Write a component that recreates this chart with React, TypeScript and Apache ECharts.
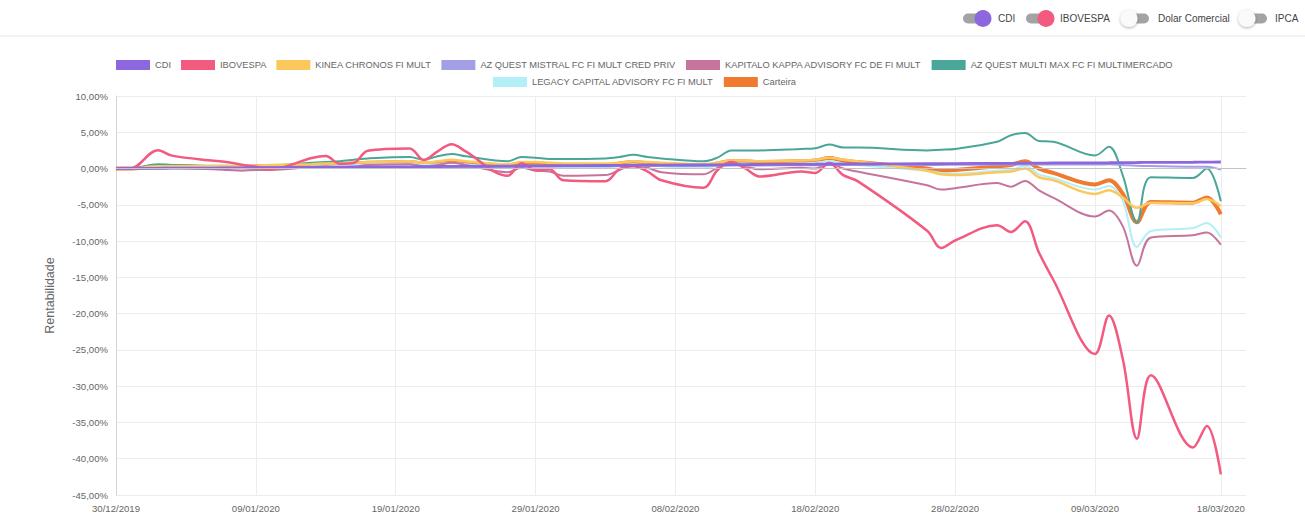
import React, { useEffect, useRef } from 'react';
import * as echarts from 'echarts';

const dates = [
  '30/12/2019', '31/12/2019', '02/01/2020', '03/01/2020', '06/01/2020', '07/01/2020', '08/01/2020', '09/01/2020', '10/01/2020',
  '13/01/2020', '14/01/2020', '15/01/2020', '16/01/2020', '17/01/2020',
  '20/01/2020', '21/01/2020', '22/01/2020', '23/01/2020', '24/01/2020',
  '27/01/2020', '28/01/2020', '29/01/2020', '30/01/2020', '31/01/2020',
  '03/02/2020', '04/02/2020', '05/02/2020', '06/02/2020', '07/02/2020',
  '10/02/2020', '11/02/2020', '12/02/2020', '13/02/2020', '14/02/2020',
  '17/02/2020', '18/02/2020', '19/02/2020', '20/02/2020', '21/02/2020',
  '26/02/2020', '27/02/2020', '28/02/2020',
  '02/03/2020', '03/03/2020', '04/03/2020', '05/03/2020', '06/03/2020',
  '09/03/2020', '10/03/2020', '11/03/2020', '12/03/2020', '13/03/2020',
  '16/03/2020', '17/03/2020', '18/03/2020',
];

const xTickLabels = ['30/12/2019', '09/01/2020', '19/01/2020', '29/01/2020', '08/02/2020', '18/02/2020', '28/02/2020', '09/03/2020', '18/03/2020'];

const cdi = [
  0, 0.02, 0.03, 0.05, 0.07, 0.09, 0.10, 0.12, 0.14,
  0.16, 0.17, 0.19, 0.21, 0.23,
  0.24, 0.26, 0.28, 0.30, 0.31,
  0.33, 0.35, 0.37, 0.38, 0.40,
  0.42, 0.43, 0.45, 0.47, 0.48,
  0.50, 0.51, 0.53, 0.55, 0.56,
  0.58, 0.59, 0.61, 0.63, 0.64,
  0.66, 0.67, 0.69,
  0.71, 0.72, 0.74, 0.75, 0.77,
  0.79, 0.80, 0.82, 0.83, 0.85,
  0.87, 0.88, 0.90,
];

const ibovespa = [
  0, 0, 2.53, 1.78, 1.07, 0.88, 0.52, 0.26, -0.12,
  1.45, 1.72, 0.66, 0.77, 2.45,
  2.78, 1.19, 2.37, 3.36, 2.36,
  -1.00, 0.72, -0.22, -0.10, -1.63,
  -1.76, -0.08, 0.33, -0.39, -1.62,
  -2.66, -0.24, 0.89, 0.01, -1.09,
  -0.40, -0.60, 0.75, -0.91, -1.70,
  -8.58, -10.95, -9.92,
  -7.80, -8.74, -7.28, -11.60, -15.26,
  -25.58, -20.26, -26.35, -37.24, -28.51,
  -38.46, -35.48, -42.15,
];

const kinea = [
  0, 0, 0.3, 0.3, 0.3, 0.3, 0.4, 0.4, 0.5,
  0.6, 0.7, 0.7, 0.8, 0.9,
  1.0, 0.8, 1.0, 1.2, 1.0,
  0.6, 0.9, 0.9, 0.8, 0.7,
  0.7, 0.8, 1.0, 0.9, 0.8,
  0.6, 0.8, 1.1, 1.1, 1.0,
  1.1, 1.2, 1.5, 1.2, 1.0,
  -0.3, -0.8, -0.9,
  -0.5, -0.4, 0.0, -1.2, -1.6,
  -3.5, -3.0, -4.0, -5.4, -4.7,
  -4.8, -4.2, -5.2,
];

const mistral = [
  0, 0.01, 0.02, 0.04, 0.05, 0.07, 0.08, 0.09, 0.10,
  0.12, 0.13, 0.14, 0.16, 0.17,
  0.19, 0.20, 0.21, 0.23, 0.24,
  0.25, 0.27, 0.28, 0.29, 0.30,
  0.32, 0.33, 0.35, 0.36, 0.37,
  0.38, 0.40, 0.41, 0.42, 0.43,
  0.45, 0.46, 0.48, 0.49, 0.50,
  0.50, 0.50, 0.52,
  0.54, 0.55, 0.57, 0.56, 0.55,
  0.55, 0.58, 0.50, 0.40, 0.35,
  0.25, 0.25, -0.15,
];

const kapitalo = [
  0, 0, 0.2, 0.1, -0.1, -0.2, -0.3, -0.2, -0.2,
  0.2, 0.3, 0.1, 0.2, 0.5,
  0.6, 0.3, 0.5, 0.8, 0.5,
  -0.5, 0.1, -0.3, -0.4, -1.0,
  -0.9, -0.2, 0.5, 0.1, -0.5,
  -0.8, 0.1, 0.8, 0.3, -0.1,
  0.1, 0.0, 0.8, 0.0, -0.4,
  -2.3, -2.9, -2.7,
  -2.0, -2.5, -1.7, -3.0, -4.0,
  -6.6, -5.8, -8.0, -13.4, -9.5,
  -9.2, -8.8, -10.5,
];

const multiMax = [
  0, 0, 0.6, 0.5, 0.4, 0.4, 0.3, 0.3, 0.4,
  0.8, 0.9, 1.0, 1.2, 1.4,
  1.6, 1.2, 1.7, 2.0, 1.7,
  1.0, 1.6, 1.5, 1.3, 1.3,
  1.4, 1.6, 1.9, 1.6, 1.4,
  1.0, 1.5, 2.5, 2.5, 2.5,
  2.7, 2.8, 3.3, 2.9, 2.9,
  2.5, 2.6, 2.7,
  3.7, 4.6, 4.9, 3.8, 3.7,
  1.8, 3.0, -1.0, -7.5, -1.2,
  -1.3, 0.0, -4.5,
];

const legacy = [
  0, 0, 0.2, 0.2, 0.1, 0.1, 0.1, 0.2, 0.2,
  0.3, 0.4, 0.4, 0.5, 0.6,
  0.7, 0.5, 0.6, 0.8, 0.6,
  0.2, 0.4, 0.4, 0.3, 0.2,
  0.2, 0.4, 0.6, 0.5, 0.3,
  0.1, 0.4, 0.7, 0.7, 0.6,
  0.7, 0.8, 1.0, 0.7, 0.5,
  -0.3, -0.6, -0.7,
  -0.3, -0.2, 0.4, -0.8, -1.3,
  -2.9, -2.4, -4.5, -10.8, -8.6,
  -8.2, -7.5, -9.5,
];

const carteira = [
  0, 0, 0.3, 0.3, 0.2, 0.2, 0.2, 0.3, 0.3,
  0.5, 0.6, 0.6, 0.7, 0.8,
  0.9, 0.7, 0.8, 1.0, 0.8,
  0.4, 0.7, 0.6, 0.6, 0.4,
  0.4, 0.7, 0.9, 0.7, 0.5,
  0.3, 0.7, 1.0, 1.0, 0.9,
  1.0, 1.1, 1.45, 1.1, 0.9,
  0.0, -0.3, -0.2,
  0.3, 0.5, 1.0, 0.0, -0.6,
  -2.2, -1.6, -3.5, -7.4, -4.6,
  -4.7, -4.0, -6.3,
];

const seriesNames = [
  'CDI',
  'IBOVESPA',
  'KINEA CHRONOS FI MULT',
  'AZ QUEST MISTRAL FC FI MULT CRED PRIV',
  'KAPITALO KAPPA ADVISORY FC DE FI MULT',
  'AZ QUEST MULTI MAX FC FI MULTIMERCADO',
  'LEGACY CAPITAL ADVISORY FC FI MULT',
  'Carteira',
];
const seriesValues = [cdi, ibovespa, kinea, mistral, kapitalo, multiMax, legacy, carteira];
const seriesColors = ['#8d67dd', '#f25a80', '#fbc85c', '#a39fe6', '#c7749c', '#4aa698', '#b3eff6', '#f07a30'];
const seriesWidths = [2.8, 2.5, 2.5, 2, 2, 2, 2, 4];

const toggleNames = ['CDI', 'IBOVESPA', 'Dolar Comercial', 'IPCA'];
const toggleOn = [true, true, false, false];

const FONT = '"Liberation Sans", Arial, Helvetica, sans-serif';

function dayIndex(s: string): number {
  const [d, m, y] = s.split('/').map(Number);
  return Math.round((Date.UTC(y, m - 1, d) - Date.UTC(2019, 11, 30)) / 86400000);
}

function fmtPct(v: number): string {
  return v.toFixed(2).replace('.', ',') + '%';
}

export default function App() {
  const ref = useRef<HTMLDivElement>(null);

  useEffect(() => {
    if (!ref.current) return;
    const chart = echarts.init(ref.current, undefined, { renderer: 'svg' });

    const tickPos = xTickLabels.map(dayIndex);
    const labelByPos: Record<number, string> = {};
    tickPos.forEach((p, i) => (labelByPos[p] = xTickLabels[i]));

    const order = seriesNames.map((_, i) => i).reverse();
    const series: any[] = order.map((i) => ({
      name: seriesNames[i],
      type: 'line',
      data: dates.map((d, k) => [dayIndex(d), seriesValues[i][k]]),
      showSymbol: false,
      symbol: 'none',
      smooth: 0.35,
      color: seriesColors[i],
      lineStyle: { width: seriesWidths[i], color: seriesColors[i] },
      emphasis: { disabled: true },
    }));
    series[0].markLine = {
      silent: true,
      symbol: 'none',
      label: { show: false },
      lineStyle: { color: '#c4c4c4', width: 1, type: 'solid' },
      data: [{ yAxis: 0 }],
    };

    const knobX = [983, 1046, 1129, 1247];
    const textX = [998, 1060, 1158, 1275];
    const graphics: any[] = [
      { type: 'line', shape: { x1: 0, y1: 36, x2: 1305, y2: 36 }, style: { stroke: '#e8e8e8', lineWidth: 1 } },
    ];
    toggleNames.forEach((name, i) => {
      const on = toggleOn[i];
      const trackX = on ? knobX[i] - 20 : knobX[i] - 7;
      graphics.push({
        type: 'rect',
        shape: { x: trackX, y: 13.5, width: 27, height: 10, r: 5 },
        style: { fill: '#a3a3a3' },
      });
      graphics.push({
        type: 'circle',
        shape: { cx: knobX[i], cy: 18.5, r: 8.5 },
        style: on
          ? { fill: seriesColors[i] }
          : { fill: '#fafafa', shadowBlur: 3, shadowColor: 'rgba(0,0,0,0.35)', shadowOffsetY: 1 },
      });
      graphics.push({
        type: 'text',
        x: textX[i],
        y: 18.5,
        style: { text: name, fill: '#444', fontSize: 10, fontFamily: FONT, verticalAlign: 'middle', align: 'left' },
      });
    });

    const legendCommon = {
      icon: 'rect',
      itemWidth: 34,
      itemHeight: 10,
      itemGap: 10,
      textStyle: { color: '#666', fontSize: 9.3, fontFamily: FONT },
      selectedMode: false,
    };

    chart.setOption({
      animation: false,
      textStyle: { fontFamily: FONT },
      grid: { left: 116, right: 59, top: 96, bottom: 30 },
      legend: [
        { ...legendCommon, data: seriesNames.slice(0, 6), left: 111, top: 55 },
        { ...legendCommon, data: seriesNames.slice(6), left: 488, top: 72 },
      ],
      xAxis: {
        type: 'value',
        min: 0,
        max: 80.8,
        axisLine: { show: true, lineStyle: { color: '#d4d4d4' } },
        axisTick: { show: false, customValues: tickPos },
        axisLabel: {
          customValues: tickPos,
          formatter: (v: number) => labelByPos[Math.round(v)] ?? '',
          color: '#666',
          fontSize: 9.6,
          fontFamily: FONT,
          margin: 8,
        },
        splitLine: { show: true, lineStyle: { color: '#ececec', width: 1 } },
      },
      yAxis: {
        type: 'value',
        min: -45,
        max: 10,
        interval: 5,
        name: 'Rentabilidade',
        nameLocation: 'middle',
        nameGap: 60,
        nameTextStyle: { color: '#666', fontSize: 12.5, fontFamily: FONT },
        axisLine: { show: true, lineStyle: { color: '#d4d4d4' } },
        axisTick: { show: false },
        axisLabel: { formatter: fmtPct, color: '#666', fontSize: 9.6, fontFamily: FONT, margin: 8 },
        splitLine: { show: true, lineStyle: { color: '#ececec', width: 1 } },
      },
      graphic: graphics,
      series,
    });

    return () => chart.dispose();
  }, []);

  return (
    <div
      ref={ref}
      style={{ position: 'fixed', left: 0, top: 0, width: 1305, height: 525, background: '#fff' }}
    />
  );
}
